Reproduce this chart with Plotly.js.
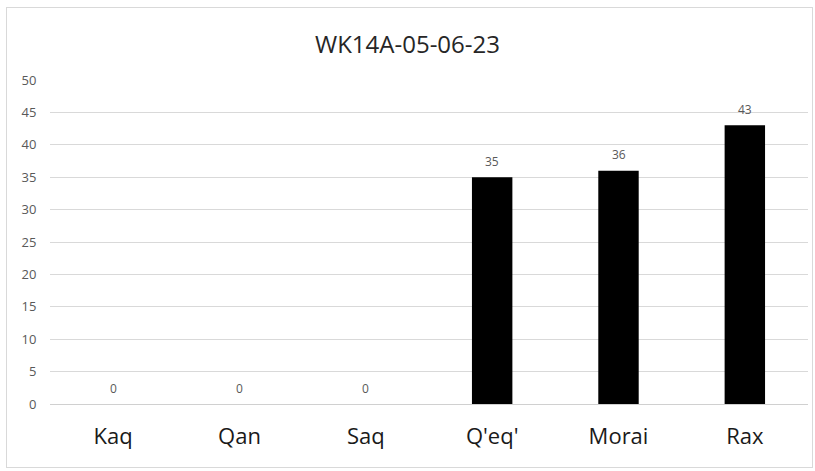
<!DOCTYPE html>
<html>
<head>
<meta charset="utf-8">
<script src="https://cdn.plot.ly/plotly-3.0.1.min.js"></script>
<style>
html,body{margin:0;padding:0;background:#fff;}
#wrap{position:relative;width:815px;height:471px;}
#chart{width:815px;height:471px;}
#frame{position:absolute;left:6px;top:7px;width:805px;height:459px;border:1px solid #d9d9d9;pointer-events:none;}
</style>
</head>
<body>
<div id="wrap"><div id="chart"></div><div id="frame"></div></div>
<script>
const categories = ["Kaq", "Qan", "Saq", "Q'eq'", "Morai", "Rax"];
const values = [0, 0, 0, 35, 36, 43];
const yTicks = [0, 5, 10, 15, 20, 25, 30, 35, 40, 45, 50];
const chartTitle = "WK14A-05-06-23";

const font = "'Open Sans', 'Liberation Sans', sans-serif";

const trace = {
  type: 'bar',
  x: categories,
  y: values,
  marker: {color: '#000000'},
  width: 0.32,
  hoverinfo: 'none'
};

const annotations = categories.map((c, i) => ({
  x: c, y: values[i], xref: 'x', yref: 'y',
  text: String(values[i]), showarrow: false,
  yshift: 16, font: {family: font, size: 12, color: '#595959'}
}));

const layout = {
  width: 815, height: 471,
  margin: {l: 50, r: 7, t: 80, b: 67},
  paper_bgcolor: '#ffffff', plot_bgcolor: '#ffffff',
  showlegend: false,
  title: {text: chartTitle, x: 0.5, xanchor: 'center', y: 0.905, yanchor: 'middle',
          font: {family: font, size: 24, color: '#262626'}},
  xaxis: {
    type: 'category', showgrid: false, zeroline: false, showline: false,
    ticks: 'outside', ticklen: 13, tickcolor: 'rgba(0,0,0,0)',
    tickfont: {family: font, size: 22, color: '#1a1a1a'},
    fixedrange: true
  },
  yaxis: {
    range: [0, 50], tickvals: yTicks, ticktext: yTicks.map(String),
    showgrid: true, gridcolor: '#d9d9d9', gridwidth: 1,
    zeroline: true, zerolinecolor: '#d0d0d0', zerolinewidth: 1,
    showline: false, ticks: 'outside', ticklen: 10, tickcolor: 'rgba(0,0,0,0)',
    tickfont: {family: font, size: 13, color: '#595959'},
    fixedrange: true
  },
  bargap: 0.68,
  annotations: annotations
};

Plotly.newPlot('chart', [trace], layout, {displayModeBar: false, staticPlot: true});
</script>
</body>
</html>
